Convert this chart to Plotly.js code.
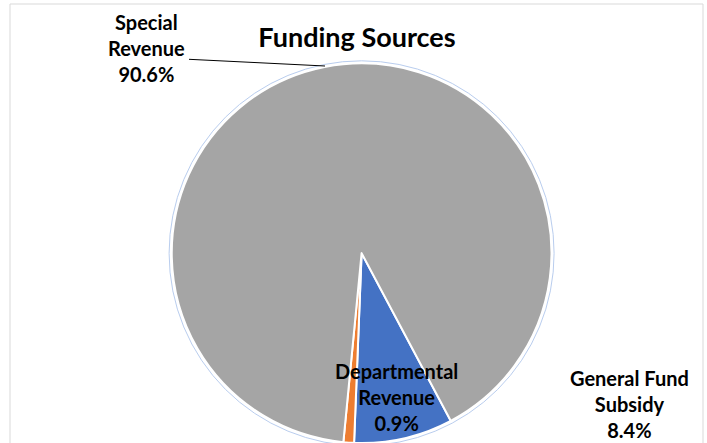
<!DOCTYPE html>
<html>
<head>
<meta charset="utf-8">
<script src="https://cdn.plot.ly/plotly-3.0.1.min.js"></script>
<style>html,body{margin:0;padding:0;background:#fff;}#chart{width:707px;height:443px;}</style>
</head>
<body>
<div id="chart"></div>
<script>
// Data
const categories = ["General Fund Subsidy", "Departmental Revenue", "Special Revenue"];
const displayLabels = ["General Fund<br>Subsidy", "Departmental<br>Revenue", "Special<br>Revenue"];
const shares = [8.4, 0.9, 90.6];
const colors = ["#4472C4", "#ED7D31", "#A5A5A5"];

const W = 707, H = 443;
const cx = 361.6, cy = 253.3, R = 190;
const px = x => x / W;
const py = y => 1 - y / H;

const font = "Lato, 'Open Sans', sans-serif";
const labelText = i => "<b>" + displayLabels[i] + "<br>" + shares[i].toFixed(1) + "%</b>";

const labelPos = [
  {x: 629, y: 404},
  {x: 397, y: 397},
  {x: 146, y: 48}
];

const annotations = labelPos.map((p, i) => ({
  x: px(p.x), y: py(p.y), xref: "paper", yref: "paper",
  xanchor: "center", yanchor: "middle", showarrow: false,
  text: labelText(i), align: "center",
  font: {family: font, size: 20, color: "#000"}
}));

const trace = {
  type: "pie",
  labels: categories,
  values: shares,
  sort: false,
  direction: "clockwise",
  rotation: 152,
  textinfo: "none",
  hoverinfo: "none",
  marker: {colors: colors, line: {color: "#ffffff", width: 2}},
  domain: {x: [px(cx - R), px(cx + R)], y: [py(cy + R), py(cy - R)]},
  showlegend: false
};

const Ro = R + 2.5;
const layout = {
  width: W, height: H,
  margin: {l: 0, r: 0, t: 0, b: 0},
  paper_bgcolor: "#fff",
  title: {text: "<b>Funding Sources</b>", x: px(357), xanchor: "center", y: py(38), yanchor: "middle",
          font: {family: font, size: 27, color: "#000"}},
  annotations: annotations,
  shapes: [
    {type: "rect", xref: "paper", yref: "paper", x0: px(10), x1: px(703), y0: -0.05, y1: py(4),
     line: {color: "#D9D9D9", width: 1}, fillcolor: "rgba(0,0,0,0)"},
    {type: "circle", xref: "paper", yref: "paper", x0: px(cx - Ro), x1: px(cx + Ro), y0: py(cy + Ro), y1: py(cy - Ro),
     line: {color: "#B9CDEE", width: 1}, fillcolor: "rgba(0,0,0,0)"},
    {type: "line", xref: "paper", yref: "paper", x0: px(189), y0: py(59.3), x1: px(325), y1: py(66),
     line: {color: "#000", width: 1}}
  ]
};

Plotly.newPlot("chart", [trace], layout, {staticPlot: true, displayModeBar: false});
</script>
</body>
</html>
